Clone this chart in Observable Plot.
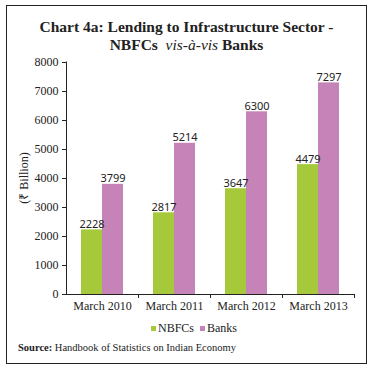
<!DOCTYPE html>
<html>
<head>
<meta charset="utf-8">
<script src="https://cdn.jsdelivr.net/npm/d3@7"></script>
<script src="https://cdn.jsdelivr.net/npm/@observablehq/plot@0.6"></script>
<style>
  html, body { margin: 0; padding: 0; background: #fff; }
  #chart { position: relative; width: 376px; height: 371px; overflow: hidden; font-family: "Liberation Serif", serif; color: #222; }
  #frame { position: absolute; left: 6px; top: 5px; width: 359px; height: 357px; border: 1px solid #222; }
  #title { position: absolute; left: 6px; top: 18px; width: 361px; text-align: center; font-weight: bold; font-size: 15.5px; line-height: 18px; color: #222; }
  #title i { font-weight: normal; }
  #plot { position: absolute; left: 0; top: 50px; }
  #ylabel { position: absolute; left: 23px; top: 178px; transform: translate(-50%, -50%) rotate(-90deg); font-size: 12px; white-space: nowrap; }
  #legend { position: absolute; left: 151px; top: 321px; font-size: 12px; display: flex; align-items: center; white-space: nowrap; }
  #legend .sw { display: inline-block; width: 5px; height: 5px; margin-right: 2px; }
  #legend .item { display: flex; align-items: center; margin-right: 6px; }
  #source { position: absolute; left: 18px; top: 342px; font-size: 10.5px; white-space: nowrap; }
</style>
</head>
<body>
<div id="chart">
  <div id="frame"></div>
  <div id="title">Chart 4a: Lending to Infrastructure Sector -<br>NBFCs&nbsp; <i>vis-à-vis</i> Banks</div>
  <div id="plot"></div>
  <div id="ylabel">(₹ Billion)</div>
  <div id="legend"></div>
  <div id="source"><b>Source:</b> Handbook of Statistics on Indian Economy</div>
</div>
<script>
const periods = ["March 2010", "March 2011", "March 2012", "March 2013"];
const series = ["NBFCs", "Banks"];
const nbfcs = [2228, 2817, 3647, 4479];
const banks = [3799, 5214, 6300, 7297];
const colors = ["#a5c93a", "#c683b7"];
const yTicks = [0, 1000, 2000, 3000, 4000, 5000, 6000, 7000, 8000];

const rows = [];
periods.forEach((p, i) => {
  rows.push({period: p, series: "NBFCs", value: nbfcs[i]});
  rows.push({period: p, series: "Banks", value: banks[i]});
});

function axisLines(index, scales, values, dims) {
  const g = d3.create("svg:g").attr("stroke", "#222").attr("fill", "none");
  const left = dims.marginLeft, right = dims.width - dims.marginRight;
  const y0 = scales.y ? scales.y(0) : dims.height - dims.marginBottom;
  const y1 = scales.y ? scales.y(yTicks[yTicks.length - 1]) : dims.marginTop;
  g.append("line").attr("x1", left + 0.5).attr("x2", left + 0.5).attr("y1", y0).attr("y2", y1 - 0.5);
  g.append("line").attr("x1", left).attr("x2", right + 1).attr("y1", y0 + 0.5).attr("y2", y0 + 0.5);
  const n = periods.length;
  for (let i = 1; i <= n; i++) {
    const xb = Math.round(left + (right - left) * i / n) + 0.5;
    g.append("line").attr("x1", xb).attr("x2", xb).attr("y1", y0).attr("y2", y0 + 4);
  }
  return g.node();
}

const chart = Plot.plot({
  width: 376,
  height: 280,
  marginTop: 12,
  marginBottom: 36,
  marginLeft: 66,
  marginRight: 22,
  style: {fontFamily: "Liberation Serif, serif", fontSize: "12px", color: "#222", background: "transparent"},
  fx: {domain: periods, padding: 0, label: null, axis: null},
  x: {domain: series, paddingInner: 0, paddingOuter: 0.714, axis: null},
  y: {domain: [0, 8000], label: null},
  color: {domain: series, range: colors},
  marks: [
    Plot.barY(rows, {fx: "period", x: "series", y: "value", fill: "series"}),
    Plot.text(rows, {fx: "period", x: "series", y: "value", text: d => String(d.value), lineAnchor: "bottom", dy: -2, fontFamily: "Noto Sans, sans-serif", fontSize: 11, fill: "#222"}),
    Plot.axisY({ticks: yTicks, tickSize: 4, tickPadding: 4, tickFormat: d => String(d), label: null}),
    Plot.axisFx({anchor: "bottom", tickSize: 0, tickPadding: 7, label: null}),
    Plot.frame({facet: "super", render: axisLines})
  ]
});
document.getElementById("plot").appendChild(chart);

const legend = document.getElementById("legend");
series.forEach((s, i) => {
  const item = document.createElement("span");
  item.className = "item";
  const sw = document.createElement("span");
  sw.className = "sw";
  sw.style.background = colors[i];
  item.appendChild(sw);
  item.appendChild(document.createTextNode(s));
  legend.appendChild(item);
});
</script>
</body>
</html>
